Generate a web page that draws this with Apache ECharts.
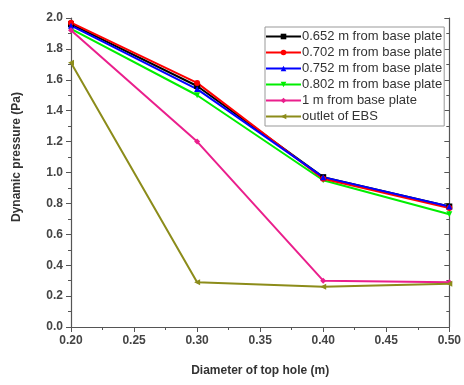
<!DOCTYPE html>
<html>
<head>
<meta charset="utf-8">
<script src="https://cdn.jsdelivr.net/npm/echarts@6/dist/echarts.min.js"></script>
<style>html,body{margin:0;padding:0;background:#fff}#c{width:464px;height:385px}</style>
</head>
<body>
<div id="c"></div>
<script>
const xValues = [0.20, 0.30, 0.40, 0.50];
const xTicks = ['0.20','0.25','0.30','0.35','0.40','0.45','0.50'];
const seriesNames = ['0.652 m from base plate','0.702 m from base plate','0.752 m from base plate','0.802 m from base plate','1 m from base plate','outlet of EBS'];
const s0652 = [1.96, 1.56, 0.97, 0.78];
const s0702 = [1.97, 1.58, 0.96, 0.77];
const s0752 = [1.95, 1.54, 0.97, 0.78];
const s0802 = [1.93, 1.50, 0.95, 0.73];
const s1m   = [1.92, 1.20, 0.30, 0.29];
const sOut  = [1.71, 0.29, 0.26, 0.28];

const values = [s0652, s0702, s0752, s0802, s1m, sOut];
const colors = ['#000000','#ff0000','#0000ff','#00ee00','#ea1f8c','#8c8c1a'];
const symbols = ['rect','circle','triangle','triangle','diamond','triangle'];
const rotates = [0,0,0,180,0,90];

const chart = echarts.init(document.getElementById('c'));
const FONT = 'Liberation Sans, Arial, sans-serif';
const axisCol = '#555';

const series = values.map((v,i)=>({
  name: seriesNames[i],
  type:'line',
  data: xValues.map((x,j)=>[x, v[j]]),
  symbol: symbols[i],
  symbolRotate: rotates[i],
  symbolSize: 6,
  itemStyle:{color: colors[i]},
  lineStyle:{color: colors[i], width: 2},
  z: 10 - (i===3?2:0)
}));

chart.setOption({
  animation:false,
  backgroundColor:'#fff',
  grid:{left:71, right:7, top:18, bottom:58},
  legend:{
    left:265, top:27, orient:'vertical',
    itemWidth:35, itemHeight:7, itemGap:3,
    padding:[3,2,3,0],
    borderColor:'#999', borderWidth:1,
    backgroundColor:'#fff',
    textStyle:{fontFamily:FONT, fontSize:13, color:'#333', padding:[0,0,0,-4]},
    data: seriesNames
  },
  xAxis:[{
    type:'value', min:0.2, max:0.5, interval:0.05,
    name:'Diameter of top hole (m)', nameLocation:'middle', nameGap:38,
    nameTextStyle:{fontFamily:FONT, fontSize:12, fontWeight:'bold', color:'#333'},
    axisLine:{lineStyle:{color:axisCol, width:1.2}},
    axisTick:{show:true, length:5, lineStyle:{color:axisCol}},
    minorTick:{show:true, splitNumber:2, length:3, lineStyle:{color:axisCol}},
    splitLine:{show:false},
    axisLabel:{fontFamily:FONT, fontSize:12, fontWeight:'bold', color:'#444', margin:8,
      formatter:(v)=>{const s=v.toFixed(2); return xTicks.includes(s)?s:'';}}
  },{
    type:'value', position:'top', min:0.2, max:0.5, interval:0.05,
    axisLine:{show:true, lineStyle:{color:axisCol, width:1.2}},
    axisTick:{show:true, inside:true, length:5, lineStyle:{color:axisCol}},
    minorTick:{show:true, splitNumber:2, length:3, lineStyle:{color:axisCol}},
    splitLine:{show:false}, axisLabel:{show:false}
  }],
  yAxis:[{
    type:'value', min:0, max:2.0, interval:0.2,
    axisLine:{show:true, lineStyle:{color:axisCol, width:1.2}},
    axisTick:{show:true, length:5, lineStyle:{color:axisCol}},
    minorTick:{show:true, splitNumber:2, length:3, lineStyle:{color:axisCol}},
    splitLine:{show:false},
    axisLabel:{fontFamily:FONT, fontSize:12, fontWeight:'bold', color:'#444', margin:8,
      formatter:(v)=>v.toFixed(1)}
  },{
    type:'value', position:'right', min:0, max:2.0, interval:0.2,
    axisLine:{show:true, lineStyle:{color:axisCol, width:1.2}},
    axisTick:{show:true, inside:true, length:5, lineStyle:{color:axisCol}},
    minorTick:{show:true, splitNumber:2, length:3, lineStyle:{color:axisCol}},
    splitLine:{show:false}, axisLabel:{show:false}
  }],
  graphic:[{
    type:'text', rotation:Math.PI/2, x:17, y:157,
    style:{text:'Dynamic pressure (Pa)', fontFamily:FONT, fontSize:12, fontWeight:'bold', fill:'#333',
      textAlign:'center', textVerticalAlign:'middle'}
  }],
  series: series
});
</script>
</body>
</html>
